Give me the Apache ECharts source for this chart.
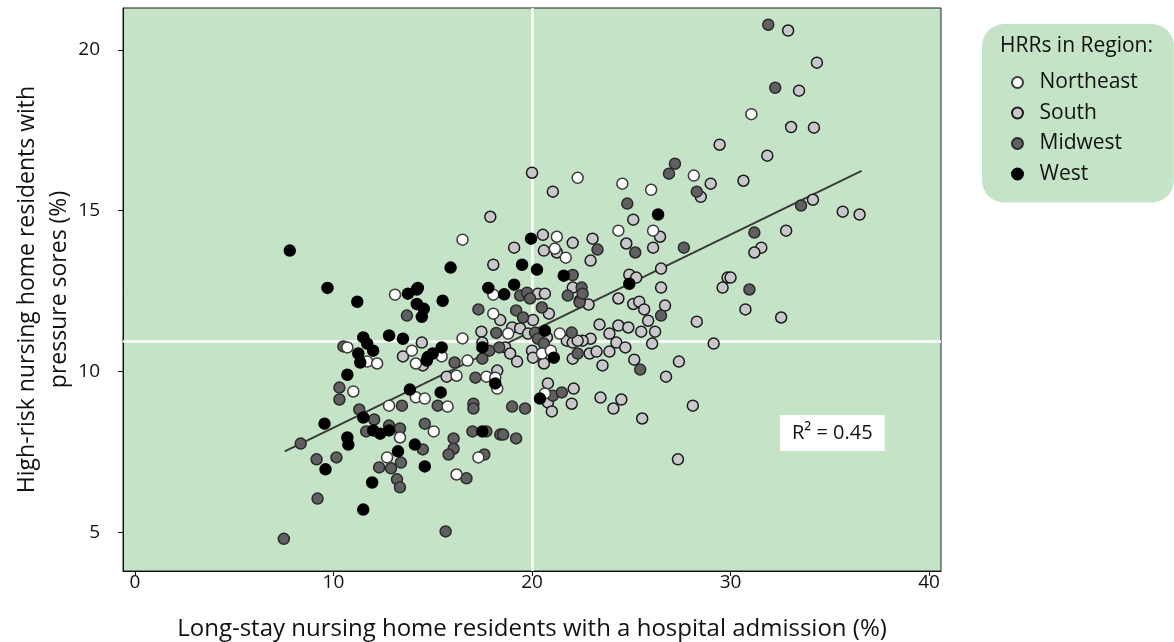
<!DOCTYPE html>
<html>
<head>
<meta charset="utf-8">
<script src="https://cdn.jsdelivr.net/npm/echarts@6/dist/echarts.min.js"></script>
<style>html,body{margin:0;padding:0;background:#fff}#c{width:1174px;height:642px}</style>
</head>
<body>
<div id="c"></div>
<script>
var xTicks = [0, 10, 20, 30, 40];
var yTicks = [5, 10, 15, 20];
var regionNames = ['Northeast', 'South', 'Midwest', 'West'];
var refX = 20;
var refY = 10.93;
var fitLine = [[7.55, 7.52], [36.6, 16.24]];
var r2Text = 'R\u00b2 = 0.45';

var northeast = [[13.1,12.39],[10.7,10.75],[11.7,10.31],[12.2,10.25],[13.95,10.65],[14.15,10.25],[11.0,9.38],[12.8,8.94],[14.15,9.2],[14.6,9.16],[13.35,7.95],[12.7,7.33],[18.05,12.39],[18.05,11.8],[18.8,11.18],[21.4,11.18],[16.5,11.03],[20.5,10.56],[20.95,10.65],[15.45,10.47],[16.75,10.34],[16.2,9.87],[17.7,9.84],[18.15,9.81],[18.25,9.47],[15.75,8.91],[20.65,9.32],[15.05,8.14],[16.2,6.8],[17.3,7.33],[22.3,16.02],[16.5,14.1],[21.25,14.19],[21.15,13.82],[21.7,13.54],[28.15,16.09],[24.55,15.84],[26.0,15.65],[24.35,14.38],[26.1,14.38],[31.05,18.0]];

var south = [[14.45,10.9],[13.5,10.47],[14.5,10.19],[20.3,12.42],[20.65,12.42],[18.4,11.6],[20.05,11.6],[20.85,11.8],[17.45,11.24],[19.0,11.37],[19.4,11.34],[19.8,11.18],[20.75,11.06],[21.75,10.96],[22.05,10.9],[17.5,10.9],[18.65,10.75],[18.9,10.56],[19.25,10.31],[20.0,10.65],[20.05,10.43],[20.6,10.25],[22.05,10.4],[15.7,9.84],[18.25,10.03],[20.8,9.63],[20.8,9.04],[21.0,8.76],[22.1,9.47],[22.0,9.0],[20.0,16.18],[21.05,15.59],[17.9,14.81],[20.55,14.25],[22.05,14.0],[19.1,13.85],[20.6,13.76],[21.25,13.7],[18.05,13.32],[22.05,12.61],[29.0,15.84],[28.5,15.43],[25.1,14.72],[26.45,14.19],[23.05,14.13],[24.75,13.98],[26.1,13.85],[22.95,13.45],[26.5,13.2],[24.9,13.01],[25.25,12.92],[26.5,12.61],[29.6,12.61],[29.85,12.92],[24.35,12.27],[25.1,12.1],[25.4,12.17],[25.65,11.93],[26.7,12.05],[25.85,11.58],[22.85,12.08],[22.4,12.2],[28.3,11.55],[23.4,11.46],[24.35,11.43],[24.85,11.37],[23.9,11.18],[25.5,11.24],[26.2,11.24],[22.95,11.02],[22.55,10.96],[22.3,10.96],[24.25,10.9],[26.05,10.87],[29.15,10.87],[24.7,10.75],[23.9,10.62],[22.9,10.56],[23.25,10.62],[25.15,10.37],[23.55,10.19],[27.4,10.31],[26.75,9.84],[23.45,9.19],[24.5,9.13],[24.1,8.85],[28.1,8.94],[25.55,8.54],[27.35,7.27],[32.9,20.6],[34.35,19.6],[33.45,18.73],[33.05,17.6],[34.2,17.58],[29.45,17.05],[31.85,16.71],[30.65,15.93],[34.15,15.34],[35.65,14.97],[36.5,14.88],[32.8,14.38],[31.55,13.85],[31.2,13.7],[30.0,12.92],[30.75,11.93],[32.55,11.68]];

var midwest = [[7.5,4.8],[8.35,7.76],[9.15,7.27],[9.2,6.05],[10.15,7.33],[10.3,9.5],[10.3,9.13],[13.45,8.94],[11.3,8.82],[12.05,8.51],[11.65,8.14],[12.8,8.32],[13.35,8.23],[14.6,8.38],[14.5,7.58],[13.4,7.17],[12.3,7.02],[12.9,6.99],[13.2,6.65],[13.35,6.4],[13.7,11.74],[10.5,10.78],[17.3,11.93],[19.2,11.9],[19.55,11.68],[20.5,11.99],[22.4,12.15],[18.2,11.2],[20.15,11.21],[20.3,11.02],[20.6,10.87],[22.0,11.21],[17.85,10.65],[18.35,10.75],[22.3,10.56],[16.1,10.28],[17.15,9.81],[17.5,10.4],[15.25,8.94],[17.05,9.0],[17.05,8.85],[19.0,8.91],[19.65,8.85],[21.05,9.25],[21.5,9.35],[16.05,7.92],[16.05,7.6],[15.8,7.42],[16.7,6.68],[17.0,8.14],[17.7,8.14],[18.4,8.04],[18.55,8.04],[19.2,7.92],[17.6,7.42],[15.65,5.03],[19.4,12.36],[19.75,12.45],[21.8,12.36],[19.9,12.27],[22.05,13.0],[22.5,12.61],[22.55,12.42],[27.2,16.46],[26.9,16.15],[28.3,15.59],[24.8,15.22],[23.3,13.79],[25.2,13.7],[27.65,13.85],[26.5,11.74],[25.45,10.06],[31.9,20.78],[32.25,18.82],[33.55,15.16],[31.2,14.32],[30.95,12.55]];

var west = [[7.8,13.76],[9.7,12.6],[11.2,12.17],[13.75,12.42],[14.2,12.55],[14.25,12.6],[14.2,12.1],[14.55,11.95],[14.45,11.7],[11.5,11.06],[12.8,11.12],[13.5,11.02],[11.7,10.87],[12.0,10.65],[11.25,10.56],[11.35,10.28],[14.7,10.34],[10.7,9.9],[13.85,9.44],[9.55,8.38],[11.5,8.57],[12.0,8.17],[12.35,8.07],[12.8,8.17],[10.7,7.95],[10.75,7.73],[14.1,7.73],[13.25,7.52],[9.6,6.96],[14.6,7.05],[11.95,6.55],[11.5,5.71],[15.5,12.2],[15.45,10.75],[15.0,10.56],[14.75,10.45],[17.5,10.75],[18.15,9.63],[15.4,9.35],[17.5,8.14],[15.9,13.23],[19.95,14.13],[19.5,13.32],[20.25,13.17],[21.6,12.98],[17.8,12.6],[19.1,12.7],[18.6,12.4],[20.65,11.27],[21.1,10.43],[20.4,9.16],[26.35,14.88],[24.9,12.73]];

var FONT = '"Open Sans", "Noto Sans", sans-serif';
var chart = echarts.init(document.getElementById('c'), null, {renderer: 'canvas'});

function pts(name, data, fill, border) {
  return {
    name: name, type: 'scatter', data: data, symbol: 'circle', symbolSize: 11, z: 3,
    itemStyle: {color: fill, borderColor: border, borderWidth: 1.5, opacity: 1},
    emphasis: {disabled: true}
  };
}

var option = {
  animation: false,
  backgroundColor: '#ffffff',
  textStyle: {fontFamily: FONT, color: '#111'},
  grid: {left: 123, right: 233, top: 8, bottom: 71, containLabel: false, outerBoundsMode: 'none', show: true, backgroundColor: '#c5e4c7', borderColor: '#222', borderWidth: 1},
  xAxis: {
    type: 'value', min: -0.6, max: 40.6,
    name: 'Long-stay nursing home residents with a hospital admission (%)',
    nameLocation: 'middle', nameGap: 46, nameMoveOverlap: false,
    nameTextStyle: {fontSize: 24, color: '#111', fontFamily: FONT},
    axisLine: {show: true, onZero: false, lineStyle: {color: '#111', width: 1}},
    axisTick: {show: true, length: 5, customValues: xTicks, lineStyle: {color: '#111'}},
    axisLabel: {fontSize: 19, color: '#111', margin: 2, customValues: xTicks, fontFamily: FONT},
    splitLine: {show: false}
  },
  yAxis: {
    type: 'value', min: 3.8, max: 21.3,
    name: 'High-risk nursing home residents with\npressure sores (%)',
    nameLocation: 'middle', nameGap: 48, nameMoveOverlap: false,
    nameTextStyle: {fontSize: 23, lineHeight: 32, color: '#111', fontFamily: FONT},
    axisLine: {show: true, onZero: false, lineStyle: {color: '#111', width: 1}},
    axisTick: {show: true, length: 5, customValues: yTicks, lineStyle: {color: '#111'}},
    axisLabel: {fontSize: 19, color: '#111', margin: 23, customValues: yTicks, fontFamily: FONT},
    splitLine: {show: false}
  },
  legend: {
    data: regionNames, orient: 'vertical', left: 982, top: 24,
    padding: [48, 36, 18, 29], itemWidth: 22, itemHeight: 11, itemGap: 9.5,
    icon: 'circle', backgroundColor: '#c5e4c7', borderRadius: 22,
    textStyle: {fontSize: 21, lineHeight: 20, color: '#111', fontFamily: FONT, padding: [0, 0, 0, 6]},
    selectedMode: false
  },
  graphic: [
    {type: 'text', left: 1000, top: 36, z: 100, style: {text: 'HRRs in Region:', fontSize: 21, fill: '#111', fontFamily: FONT}},
    {type: 'text', left: 780, top: 415, z: 100, style: {text: r2Text, fontSize: 20, fill: '#111', fontFamily: FONT, backgroundColor: '#fff', padding: [8, 12, 8, 12]}}
  ],
  series: [
    {
      name: 'fit', type: 'line', data: fitLine, symbol: 'none', z: 2, silent: true,
      lineStyle: {color: '#3a3a3a', width: 2},
      markLine: {
        silent: true, symbol: 'none', z: 1, animation: false,
        label: {show: false},
        lineStyle: {color: '#ffffff', width: 2.5, type: 'solid'},
        emphasis: {disabled: true},
        data: [{xAxis: refX}, {yAxis: refY}]
      }
    },
    pts('South', south, '#c8c8cb', '#1a1a1a'),
    pts('Midwest', midwest, '#606060', '#2a2a2a'),
    pts('Northeast', northeast, '#ffffff', '#3a3a3a'),
    pts('West', west, '#000000', '#000000')
  ]
};
chart.setOption(option);
</script>
</body>
</html>
